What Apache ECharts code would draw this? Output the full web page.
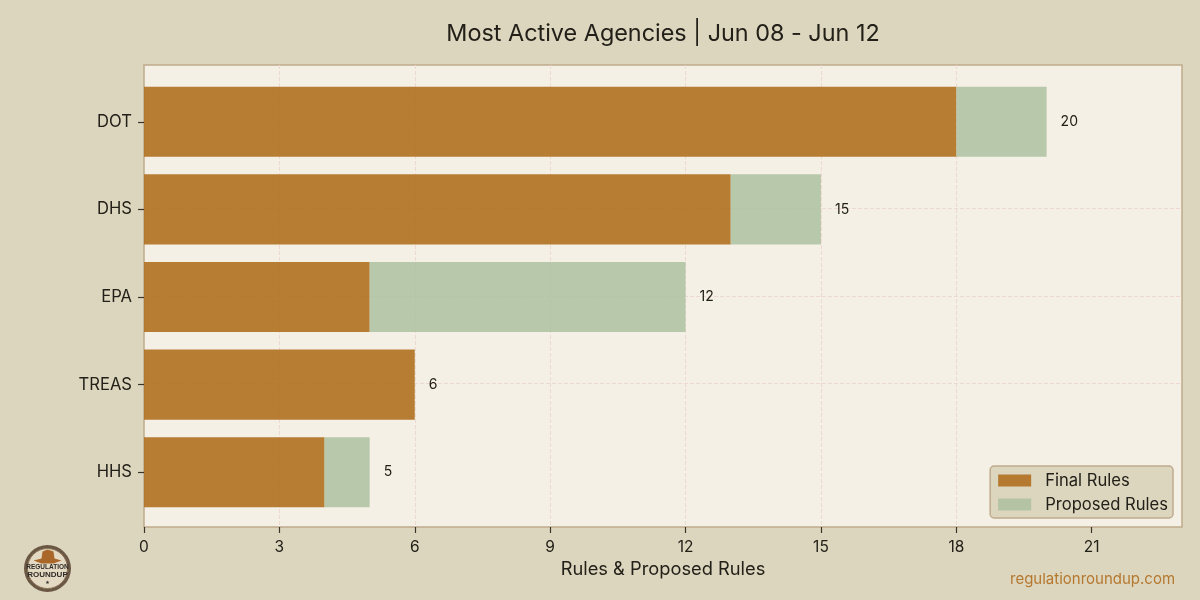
<!DOCTYPE html>
<html><head><meta charset="utf-8">
<style>html,body{margin:0;padding:0;background:#DDD6BE}#c{width:1200px;height:600px}</style>
<script src="https://cdn.jsdelivr.net/npm/echarts@6/dist/echarts.min.js"></script>
</head><body><div id="c"></div>
<script>
const categories = ['DOT','DHS','EPA','TREAS','HHS'];
const finalRules = [18,13,5,6,4];
const proposedRules = [2,2,7,0,1];
const totals = [20,15,12,6,5];
const xTicks = [0,3,6,9,12,15,18,21];
const yLines = [0,1,2,3,4];
const FONT = 'Inter';
const INK = '#222019';
const grid = {type:'dashed',color:'#ECD9CF',width:1};
const chart = echarts.init(document.getElementById('c'),null,{renderer:'canvas'});
chart.setOption({
  animation:false,
  backgroundColor:'#DDD6BE',
  textStyle:{fontFamily:FONT,color:INK},
  title:{text:'Most Active Agencies | Jun 08 - Jun 12',left:658,top:17,textAlign:'center',
    textStyle:{fontFamily:FONT,fontSize:23.4,fontWeight:400,color:INK}},
  grid:[
    {left:144,right:18,top:65,height:462,show:true,backgroundColor:'#F5F0E6',borderColor:'#BFAA8C',borderWidth:1.5,z:0},
    {left:144,right:18,top:78,height:438,show:false}
  ],
  xAxis:[
    {gridIndex:0,type:'value',min:0,max:23,name:'Rules & Proposed Rules',nameLocation:'middle',nameGap:34,
      nameTextStyle:{fontFamily:FONT,fontSize:18.3,color:INK},
      axisLine:{show:false,onZero:false},
      axisTick:{show:true,length:6,lineStyle:{color:'#3a352b',width:1.2},customValues:xTicks},
      axisLabel:{fontFamily:FONT,fontSize:15.5,color:INK,margin:12,customValues:xTicks},
      splitLine:{show:true,showMinLine:false,showMaxLine:false,lineStyle:grid}},
    {gridIndex:1,type:'value',min:0,max:23,show:false}
  ],
  yAxis:[
    {gridIndex:0,type:'value',min:-0.64,max:4.64,inverse:true,
      axisLine:{show:false,onZero:false},
      axisLabel:{show:false,customValues:yLines},
      axisTick:{show:false,customValues:yLines},
      splitLine:{show:true,showMinLine:false,showMaxLine:false,lineStyle:grid}},
    {gridIndex:1,type:'category',inverse:true,data:categories,
      axisLine:{show:false},
      axisTick:{show:true,alignWithLabel:true,length:6,lineStyle:{color:'#3a352b',width:1.2}},
      axisLabel:{fontFamily:FONT,fontSize:16.6,color:INK,margin:12},
      splitLine:{show:false}}
  ],
  legend:{right:27,top:466,orient:'vertical',icon:'rect',padding:[6,5,5,8],itemGap:7,itemWidth:33,itemHeight:12,
    backgroundColor:'#DDD6BE',borderColor:'#BFAA8C',borderWidth:1.5,borderRadius:4,
    textStyle:{fontFamily:FONT,fontSize:16.6,color:INK,padding:[0,0,0,9]},
    itemStyle:{borderWidth:0},
    data:['Final Rules','Proposed Rules']},
  series:[
    {name:'Final Rules',type:'bar',xAxisIndex:1,yAxisIndex:1,stack:'t',barWidth:'80%',data:finalRules,
      itemStyle:{color:'#B0701F',opacity:0.9}},
    {name:'Proposed Rules',type:'bar',xAxisIndex:1,yAxisIndex:1,stack:'t',barWidth:'80%',data:proposedRules,
      itemStyle:{color:'#A9BE9C',opacity:0.8},
      label:{show:true,position:'right',distance:14,fontFamily:FONT,fontSize:14,color:INK,opacity:1,
        formatter:p=>String(totals[p.dataIndex])}}
  ],
  graphic:[
    {type:'text',left:1010,top:572,style:{text:'regulationroundup.com',fontFamily:FONT,fontSize:15,fill:'#B5782F'}},
    {type:'group',left:24,top:545,children:[
      {type:'circle',shape:{cx:24,cy:24,r:23.5},style:{fill:'#6B5844'}},
      {type:'circle',shape:{cx:24,cy:24,r:20},style:{fill:'#E4DAC4',stroke:'#8C7558',lineWidth:1}},
      {type:'polygon',shape:{points:[[10,16],[18,14],[19,7],[24,5],[30,7],[31,14],[38,16],[30,19],[18,19]]},style:{fill:'#A9672A'}},
      {type:'text',style:{text:'REGULATION',x:24,y:23,align:'center',verticalAlign:'middle',fontFamily:'Liberation Sans',fontSize:6.5,fontWeight:700,fill:'#2e2a25'}},
      {type:'text',style:{text:'ROUNDUP',x:24,y:30,align:'center',verticalAlign:'middle',fontFamily:'Liberation Sans',fontSize:8,fontWeight:700,fill:'#2e2a25'}},
      {type:'text',style:{text:'★',x:24,y:38,align:'center',verticalAlign:'middle',fontFamily:'DejaVu Sans',fontSize:5,fill:'#2e2a25'}}
    ]}
  ]
});
</script></body></html>
